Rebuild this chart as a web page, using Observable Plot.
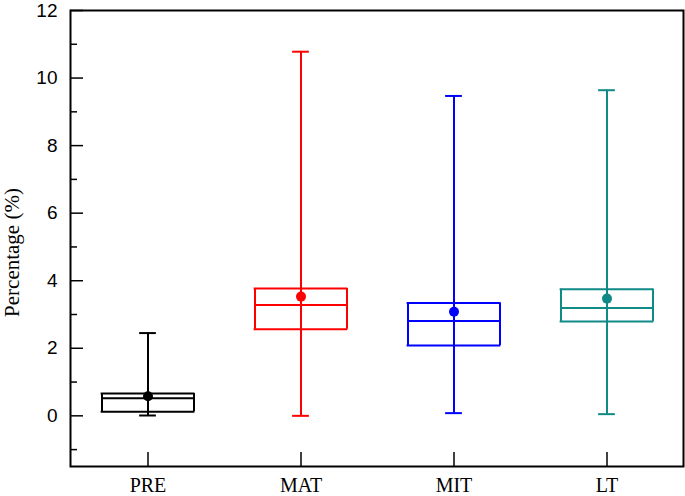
<!DOCTYPE html>
<html>
<head>
<meta charset="utf-8">
<script src="https://cdn.jsdelivr.net/npm/d3@7"></script>
<script src="https://cdn.jsdelivr.net/npm/@observablehq/plot@0.6"></script>
<style>
  html, body { margin: 0; padding: 0; background: #fff; }
  g[aria-label="x-axis tick label"] text, g.ylab text { font-family: "Liberation Serif", "Times New Roman", serif !important; }
  g[aria-label="y-axis tick label"] text { font-family: "Liberation Sans", Arial, sans-serif !important; }
</style>
</head>
<body>
<div id="chart"></div>
<script>
const cats = ["PRE", "MAT", "MIT", "LT"];
const colors = ["#000000", "#ff0000", "#0000ff", "#0f8a87"];
const mins = [0.01, 0.0, 0.08, 0.05];
const q1s = [0.12, 2.56, 2.08, 2.79];
const medians = [0.52, 3.28, 2.81, 3.19];
const q3s = [0.66, 3.77, 3.34, 3.75];
const maxs = [2.45, 10.78, 9.47, 9.64];
const means = [0.58, 3.53, 3.08, 3.47];
const majorTicks = [0, 2, 4, 6, 8, 10, 12];
const minorTicks = [-1, 1, 3, 5, 7, 9, 11];
const yLabel = "Percentage (%)";

const data = cats.map((c, i) => ({
  cat: c, min: mins[i], q1: q1s[i], med: medians[i], q3: q3s[i], max: maxs[i], mean: means[i]
}));

const W = 685, H = 496;
const mL = 70, mR = 2, mT = 10, mB = 30;
const plotW = W - mL - mR, plotH = H - mT - mB;
const band = plotW / cats.length;
const boxW = 92;
const boxInset = (band - boxW) / 2;
const capInset = (band - 17) / 2;

const chart = Plot.plot({
  width: W,
  height: H,
  marginLeft: mL,
  marginRight: mR,
  marginTop: mT,
  marginBottom: mB,
  style: { background: "#fff" },
  x: { domain: cats, padding: 0, label: null },
  y: { domain: [-1.5, 12], label: null },
  color: { domain: cats, range: colors },
  marks: [
    // whiskers
    Plot.ruleX(data, { x: "cat", y1: "min", y2: "max", stroke: "cat", strokeWidth: 2 }),
    Plot.tickY(data, { x: "cat", y: "min", stroke: "cat", strokeWidth: 2, inset: capInset }),
    Plot.tickY(data, { x: "cat", y: "max", stroke: "cat", strokeWidth: 2, inset: capInset }),
    // box edges
    Plot.tickY(data, { x: "cat", y: "q1", stroke: "cat", strokeWidth: 2, inset: boxInset - 1 }),
    Plot.tickY(data, { x: "cat", y: "q3", stroke: "cat", strokeWidth: 2, inset: boxInset - 1 }),
    Plot.ruleX(data, { x: "cat", y1: "q1", y2: "q3", stroke: "cat", strokeWidth: 2, dx: -boxW / 2 }),
    Plot.ruleX(data, { x: "cat", y1: "q1", y2: "q3", stroke: "cat", strokeWidth: 2, dx: boxW / 2 }),
    // median
    Plot.tickY(data, { x: "cat", y: "med", stroke: "cat", strokeWidth: 2, inset: boxInset }),
    // mean
    Plot.dot(data, { x: "cat", y: "mean", fill: "cat", r: 5 }),
    // inward ticks
    Plot.tickY(majorTicks, { y: d => d, stroke: "#000", strokeWidth: 1.5, insetRight: plotW - 13 }),
    Plot.tickY(minorTicks, { y: d => d, stroke: "#000", strokeWidth: 1.5, insetRight: plotW - 7 }),
    Plot.tickX(cats, { x: d => d, stroke: "#000", strokeWidth: 1.5, insetTop: plotH - 14 }),
    Plot.axisY(majorTicks, { tickSize: 0, tickPadding: 13, fontSize: 19, fill: "#000", label: null }),
    Plot.axisX({ tickSize: 0, tickPadding: 11, fontSize: 20, fill: "#000", label: null }),
    Plot.text([yLabel], { text: d => d, frameAnchor: "left", rotate: -90, dx: -58, dy: 14, fontSize: 21, fill: "#000", textAnchor: "middle", className: "ylab" }),
    Plot.frame({ stroke: "#000", strokeWidth: 2 })
  ]
});
document.getElementById("chart").appendChild(chart);
</script>
</body>
</html>
